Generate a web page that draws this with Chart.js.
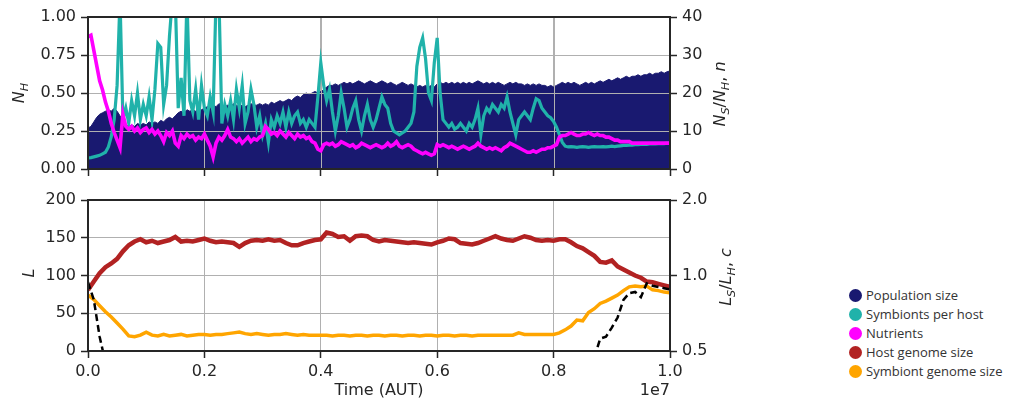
<!DOCTYPE html>
<html>
<head>
<meta charset="utf-8">
<script src="https://cdn.jsdelivr.net/npm/chart.js@4.4.0/dist/chart.umd.min.js"></script>
<style>
  html, body { margin: 0; padding: 0; background: #fff; }
  #wrap { position: relative; width: 1011px; height: 406px; overflow: hidden; }
  #topChart { position: absolute; left: 0; top: 0; }
  #bottomChart { position: absolute; left: 0; top: 185px; }
  #legend { position: absolute; left: 849px; top: 286px; font-family: "Open Sans", sans-serif; font-size: 13px; color: #333; }
  #legend .row { height: 19px; line-height: 19px; white-space: nowrap; }
  #legend .dot { display: inline-block; width: 13px; height: 13px; border-radius: 50%; vertical-align: -2px; margin-right: 4px; }
</style>
</head>
<body>
<div id="wrap">
  <canvas id="topChart" width="760" height="185"></canvas>
  <canvas id="bottomChart" width="760" height="221"></canvas>
  <div id="legend"></div>
</div>
<script>
// top panel: values every 0.005e7 time units
const populationSize = [
  0.27,0.28,0.31,0.34,0.36,0.37,0.38,0.39,0.38,0.40,
  0.38,0.35,0.31,0.29,0.28,0.29,0.28,0.30,0.29,0.30,
  0.29,0.31,0.30,0.31,0.30,0.32,0.31,0.33,0.34,0.33,
  0.35,0.37,0.38,0.37,0.39,0.38,0.39,0.38,0.40,0.39,
  0.40,0.41,0.40,0.42,0.41,0.43,0.42,0.41,0.42,0.41,
  0.43,0.42,0.41,0.42,0.41,0.42,0.43,0.42,0.42,0.43,
  0.42,0.43,0.42,0.44,0.43,0.44,0.45,0.44,0.45,0.46,
  0.45,0.47,0.48,0.47,0.49,0.50,0.49,0.50,0.51,0.50,
  0.51,0.52,0.54,0.55,0.55,0.56,0.55,0.56,0.57,0.56,
  0.57,0.56,0.57,0.58,0.57,0.56,0.57,0.58,0.57,0.56,
  0.57,0.58,0.57,0.56,0.57,0.56,0.55,0.56,0.57,0.56,
  0.55,0.56,0.55,0.54,0.55,0.54,0.55,0.54,0.55,0.54,
  0.56,0.57,0.56,0.57,0.56,0.57,0.56,0.57,0.56,0.57,
  0.56,0.57,0.56,0.57,0.58,0.57,0.56,0.57,0.56,0.57,
  0.56,0.57,0.56,0.55,0.56,0.57,0.56,0.57,0.56,0.56,
  0.55,0.56,0.55,0.56,0.55,0.56,0.55,0.55,0.54,0.55,
  0.54,0.55,0.56,0.57,0.56,0.57,0.56,0.57,0.56,0.55,
  0.56,0.57,0.56,0.57,0.56,0.57,0.58,0.57,0.58,0.59,
  0.58,0.59,0.60,0.59,0.60,0.61,0.60,0.61,0.61,0.62,
  0.61,0.62,0.62,0.63,0.62,0.63,0.63,0.64,0.63,0.64,
  0.645
];
const symbiontsPerHost = [
  2.9,3.0,3.2,3.4,3.6,4.0,4.4,5.8,8.5,13,
  22,45,13,16,12,18,14,20,13,17,
  14,19,13,21,33,32,17,22,35,45,
  45,16,24,14,45,18,15,21,13,22,
  16,14,19,15,45,45,12,17,14,18,
  13,21,16,22,12,15,21,17,11,14,
  9,12,7,13,11,14,12,15,11,15,
  12,14,15,12,13,11,13,12,11,19,
  28,22,18,21,15,10,14,20,16,11,
  13,16,18,13,10,14,17,13,11,13,
  16,19,17,16,12,10,9.5,9,9.5,10,
  11,12,15,27,32,34.5,29,20,18,28,
  34.5,20,13,12,11,12,10.5,11,12,11,
  10,12,11,13,16,9,14,16,15,17,
  16,15,17,16,19,15,12,9,13,14,
  15,14,13,16,18.5,18,16,15,14,13.5,
  12.5,11,9,7,6,5.8,5.9,5.8,5.7,5.8,
  5.9,5.8,5.7,5.8,5.9,5.8,5.8,5.9,5.8,5.9,
  6.0,5.9,6.0,6.1,6.2,6.2,6.3,6.3,6.4,6.4,
  6.5,6.5,6.5,6.6,6.6,6.6,6.7,6.7,6.7,6.8,
  6.8
];
const nutrients = [
  0.87,0.88,0.78,0.68,0.58,0.52,0.44,0.38,0.30,0.24,
  0.19,0.14,0.36,0.28,0.26,0.28,0.25,0.27,0.24,0.26,
  0.27,0.24,0.26,0.23,0.25,0.22,0.18,0.24,0.22,0.25,
  0.17,0.15,0.22,0.20,0.23,0.21,0.22,0.19,0.21,0.20,
  0.23,0.19,0.15,0.08,0.17,0.21,0.19,0.22,0.26,0.21,
  0.20,0.18,0.20,0.17,0.19,0.21,0.18,0.20,0.19,0.21,
  0.22,0.28,0.26,0.23,0.24,0.22,0.25,0.23,0.21,0.24,
  0.22,0.20,0.23,0.21,0.22,0.20,0.21,0.18,0.17,0.13,
  0.12,0.16,0.17,0.16,0.17,0.15,0.16,0.18,0.17,0.16,
  0.15,0.16,0.14,0.15,0.17,0.16,0.15,0.14,0.15,0.16,
  0.15,0.14,0.15,0.17,0.15,0.16,0.18,0.15,0.14,0.15,
  0.16,0.15,0.13,0.12,0.11,0.10,0.11,0.10,0.09,0.10,
  0.16,0.15,0.16,0.15,0.14,0.15,0.14,0.13,0.14,0.15,
  0.14,0.13,0.14,0.15,0.17,0.15,0.14,0.13,0.14,0.13,
  0.14,0.13,0.12,0.14,0.15,0.17,0.16,0.15,0.14,0.13,
  0.12,0.11,0.11,0.12,0.11,0.12,0.13,0.13,0.14,0.14,
  0.15,0.16,0.21,0.22,0.22,0.23,0.24,0.23,0.22,0.22,
  0.23,0.23,0.24,0.23,0.22,0.23,0.22,0.22,0.21,0.21,
  0.20,0.19,0.19,0.18,0.18,0.18,0.18,0.17,0.17,0.17,
  0.17,0.17,0.17,0.17,0.17,0.17,0.17,0.17,0.17,0.17,
  0.17
];

// bottom panel: values every 0.01e7 time units
const hostGenome = [
  81,92,103,111,116,122,132,140,145,148,
  144,146,143,145,147,151,145,146,145,147,
  149,146,144,145,144,143,138,143,146,147,
  146,148,146,147,143,140,140,143,145,147,
  148,157,155,151,152,146,152,153,152,147,
  145,147,146,145,144,143,144,143,142,141,
  144,146,149,148,143,142,141,143,146,149,
  152,149,147,146,149,152,150,147,146,147,
  146,148,148,144,139,136,131,126,118,117,
  120,112,108,104,100,97,92,91,89,87,
  85
];
const symbiontGenome = [
  74,68,60,52,45,37,29,20,19,21,
  25,21,20,22,20,21,22,20,21,22,
  22,21,22,22,23,24,25,23,22,23,
  22,21,22,22,23,22,21,22,21,21,
  21,21,20,21,21,20,21,21,20,21,
  21,20,21,21,20,21,21,20,21,21,
  20,21,21,20,21,21,20,21,21,21,
  21,21,21,21,24,22,22,22,22,22,
  22,24,28,33,41,40,51,56,63,66,
  70,74,80,85,86,85,86,81,80,78,
  77
];
const genomeRatio = [
  0.94,0.80,0.57,0.45,null,null,null,null,null,null,
  null,null,null,null,null,null,null,null,null,null,
  null,null,null,null,null,null,null,null,null,null,
  null,null,null,null,null,null,null,null,null,null,
  null,null,null,null,null,null,null,null,null,null,
  null,null,null,null,null,null,null,null,null,null,
  null,null,null,null,null,null,null,null,null,null,
  null,null,null,null,null,null,null,null,null,null,
  null,null,null,null,null,null,null,0.47,0.56,0.57,
  0.62,0.68,0.80,0.85,0.86,0.82,0.93,0.91,0.90,0.89,
  0.88
];

const fineTimes = populationSize.map((_, i) => i * 5e4);
const coarseTimes = hostGenome.map((_, i) => i * 1e5);

const xTicks = [0, 2e6, 4e6, 6e6, 8e6, 1e7];
const legendNames = ['Population size', 'Symbionts per host', 'Nutrients', 'Host genome size', 'Symbiont genome size'];
const legendColors = ['#191970', '#20b2aa', '#ff00ff', '#b22222', '#ffa500'];

Chart.defaults.font.family = '"DejaVu Sans", sans-serif';
Chart.defaults.font.size = 16;
Chart.defaults.color = '#262626';
Chart.defaults.animation = false;

const INK = '#262626';
const GRID = '#b0b0b0';

function pts(times, vals) {
  return vals.map((v, i) => ({ x: times[i], y: v }));
}

function gridOpts(onArea) {
  return { color: GRID, lineWidth: 1, drawOnChartArea: onArea, tickColor: INK, tickLength: 7, tickWidth: 1.5 };
}

// draws an axis label with italic letters and subscripts, rotated
function drawMath(ctx, parts, cx, cy, rotate) {
  const size = 16;
  const fontOf = p => (p.it ? 'italic ' : '') + (p.sub ? size * 0.7 : size) + 'px "DejaVu Sans"';
  ctx.save();
  ctx.translate(cx, cy);
  if (rotate) ctx.rotate(-Math.PI / 2);
  ctx.fillStyle = INK;
  ctx.textBaseline = 'alphabetic';
  ctx.textAlign = 'left';
  const widths = parts.map(p => { ctx.font = fontOf(p); return ctx.measureText(p.t).width; });
  let x = -widths.reduce((a, b) => a + b, 0) / 2;
  parts.forEach((p, i) => {
    ctx.font = fontOf(p);
    ctx.fillText(p.t, x, size * 0.36 + (p.sub ? size * 0.25 : 0));
    x += widths[i];
  });
  ctx.restore();
}

const framePlugin = {
  id: 'frame',
  afterDraw(chart) {
    const { ctx, chartArea: a } = chart;
    ctx.save();
    ctx.strokeStyle = INK;
    ctx.lineWidth = 2;
    ctx.strokeRect(a.left, a.top, a.right - a.left, a.bottom - a.top);
    ctx.restore();
  }
};

// matplotlib draws the grid above the filled area here
const gridOverFill = {
  id: 'gridOverFill',
  afterDatasetDraw(chart, args) {
    if (chart.data.datasets[args.index].label !== 'Population size') return;
    const { ctx, chartArea: a, scales } = chart;
    ctx.save();
    ctx.strokeStyle = GRID;
    ctx.lineWidth = 1;
    ctx.beginPath();
    scales.x.ticks.forEach(t => {
      const px = Math.round(scales.x.getPixelForValue(t.value)) + 0.5;
      ctx.moveTo(px, a.top); ctx.lineTo(px, a.bottom);
    });
    scales.y.ticks.forEach(t => {
      const py = Math.round(scales.y.getPixelForValue(t.value)) + 0.5;
      ctx.moveTo(a.left, py); ctx.lineTo(a.right, py);
    });
    ctx.stroke();
    ctx.restore();
  }
};

const topLabels = {
  id: 'topLabels',
  afterDraw(chart) {
    const ctx = chart.ctx;
    drawMath(ctx, [{ t: 'N', it: 1 }, { t: 'H', it: 1, sub: 1 }], 18, 93, true);
    drawMath(ctx, [{ t: 'N', it: 1 }, { t: 'S', it: 1, sub: 1 }, { t: '/' }, { t: 'N', it: 1 },
      { t: 'H', it: 1, sub: 1 }, { t: ', ' }, { t: 'n', it: 1 }], 719, 94, true);
  }
};

const bottomLabels = {
  id: 'bottomLabels',
  afterDraw(chart) {
    const ctx = chart.ctx;
    drawMath(ctx, [{ t: 'L', it: 1 }], 28, 88, true);
    drawMath(ctx, [{ t: 'L', it: 1 }, { t: 'S', it: 1, sub: 1 }, { t: '/' }, { t: 'L', it: 1 },
      { t: 'H', it: 1, sub: 1 }, { t: ', ' }, { t: 'c', it: 1 }], 725, 92, true);
    ctx.save();
    ctx.fillStyle = INK;
    ctx.font = '16px "DejaVu Sans"';
    ctx.textBaseline = 'middle';
    ctx.textAlign = 'center';
    ctx.fillText('Time (AUT)', (chart.chartArea.left + chart.chartArea.right) / 2, 206);
    ctx.textAlign = 'right';
    ctx.fillText('1e7', chart.chartArea.right, 206);
    ctx.restore();
  }
};

const xBase = {
  type: 'linear', min: 0, max: 1e7,
  afterBuildTicks: s => { s.ticks = xTicks.map(v => ({ value: v })); },
  border: { display: false }
};

new Chart(document.getElementById('topChart'), {
  type: 'line',
  data: {
    datasets: [
      { label: 'Population size', data: pts(fineTimes, populationSize), yAxisID: 'y', order: 3,
        borderColor: '#191970', backgroundColor: '#191970', borderWidth: 1, fill: 'origin', pointRadius: 0, clip: 0 },
      { label: 'Symbionts per host', data: pts(fineTimes, symbiontsPerHost), yAxisID: 'y2', order: 2,
        borderColor: '#20b2aa', borderWidth: 3.2, fill: false, pointRadius: 0, clip: 0 },
      { label: 'Nutrients', data: pts(fineTimes, nutrients), yAxisID: 'y', order: 1,
        borderColor: '#ff00ff', borderWidth: 3.6, fill: false, pointRadius: 0, clip: 0 }
    ]
  },
  options: {
    responsive: false,
    devicePixelRatio: 1,
    layout: { padding: { top: 17, left: 0, right: 0, bottom: 0 } },
    plugins: { legend: { display: false }, tooltip: { enabled: false } },
    scales: {
      x: Object.assign({}, xBase, { ticks: { display: false }, grid: gridOpts(true), afterFit: s => { s.height = 16; } }),
      y: { position: 'left', min: 0, max: 1, ticks: { stepSize: 0.25, padding: 5, callback: v => v.toFixed(2) },
        grid: gridOpts(true), border: { display: false }, afterFit: s => { s.width = 88; } },
      y2: { position: 'right', min: 0, max: 40, ticks: { stepSize: 10, padding: 5 },
        grid: gridOpts(false), border: { display: false }, afterFit: s => { s.width = 90; } }
    }
  },
  plugins: [gridOverFill, framePlugin, topLabels]
});

new Chart(document.getElementById('bottomChart'), {
  type: 'line',
  data: {
    datasets: [
      { label: 'Genome size ratio', data: pts(coarseTimes, genomeRatio), yAxisID: 'y2', order: 1,
        borderColor: '#000000', borderWidth: 2.5, borderDash: [7, 4], fill: false, pointRadius: 0, spanGaps: false, clip: 0 },
      { label: 'Host genome size', data: pts(coarseTimes, hostGenome), yAxisID: 'y', order: 2,
        borderColor: '#b22222', borderWidth: 4.5, fill: false, pointRadius: 0, clip: 0 },
      { label: 'Symbiont genome size', data: pts(coarseTimes, symbiontGenome), yAxisID: 'y', order: 3,
        borderColor: '#ffa500', borderWidth: 3.5, fill: false, pointRadius: 0, clip: 0 }
    ]
  },
  options: {
    responsive: false,
    devicePixelRatio: 1,
    layout: { padding: { top: 15, left: 0, right: 0, bottom: 0 } },
    plugins: { legend: { display: false }, tooltip: { enabled: false } },
    scales: {
      x: Object.assign({}, xBase, { ticks: { padding: 4, maxRotation: 0, callback: v => (v / 1e7).toFixed(1) },
        grid: gridOpts(true), afterFit: s => { s.height = 55; } }),
      y: { position: 'left', min: 0, max: 200, ticks: { stepSize: 50, padding: 5 },
        grid: gridOpts(true), border: { display: false }, afterFit: s => { s.width = 88; } },
      y2: { type: 'logarithmic', position: 'right', min: 0.5, max: 2,
        afterBuildTicks: s => { s.ticks = [0.5, 1, 2].map(v => ({ value: v })); },
        ticks: { padding: 5, callback: v => Number(v).toFixed(1) },
        grid: gridOpts(false), border: { display: false }, afterFit: s => { s.width = 90; } }
    }
  },
  plugins: [framePlugin, bottomLabels]
});

const legend = document.getElementById('legend');
legendNames.forEach((name, i) => {
  const row = document.createElement('div');
  row.className = 'row';
  row.innerHTML = '<span class="dot" style="background:' + legendColors[i] + '"></span>' + name;
  legend.appendChild(row);
});
</script>
</body>
</html>
